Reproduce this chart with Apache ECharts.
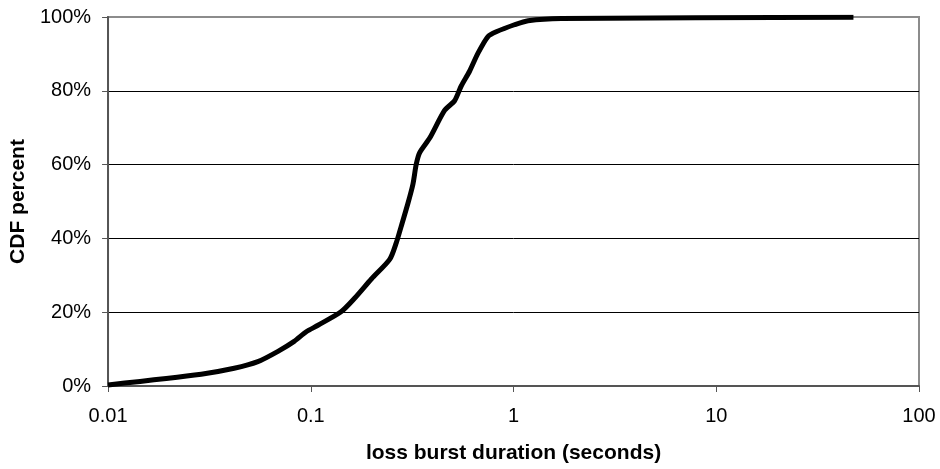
<!DOCTYPE html>
<html>
<head>
<meta charset="utf-8">
<script src="https://cdn.jsdelivr.net/npm/echarts@6/dist/echarts.min.js"></script>
<style>html,body{margin:0;padding:0;background:#fff;}#c{width:940px;height:469px;}</style>
</head>
<body>
<div id="c"></div>
<script>
const durations = [0.01, 0.0288, 0.0419, 0.0548, 0.0689, 0.0828, 0.095, 0.108, 0.141, 0.164, 0.199, 0.245, 0.264, 0.279, 0.301, 0.319, 0.331, 0.344, 0.386, 0.457, 0.512, 0.552, 0.607, 0.668, 0.748, 0.822, 1.01, 1.18, 1.72, 47.5];
const cdfPercent = [0.3, 3.2, 4.8, 6.6, 9.4, 12.1, 14.7, 16.4, 20.1, 23.7, 29.0, 34.3, 38.8, 43.2, 49.4, 54.7, 60.0, 63.2, 67.2, 74.7, 77.3, 81.3, 85.3, 90.2, 94.7, 96.0, 97.9, 99.0, 99.6, 99.9];
const xTitle = 'loss burst duration (seconds)';
const yTitle = 'CDF percent';

const FONT = '"Liberation Sans", Arial, sans-serif';
const chart = echarts.init(document.getElementById('c'), null, {renderer: 'canvas'});
chart.setOption({
  animation: false,
  backgroundColor: '#fff',
  grid: {left: 107, right: 21, top: 17, bottom: 77, show: true, borderColor: '#8c8c8c', borderWidth: 2, backgroundColor: 'transparent'},
  xAxis: {
    type: 'log', logBase: 10, min: 0.01, max: 100,
    name: xTitle, nameLocation: 'middle', nameGap: 57,
    nameTextStyle: {fontFamily: FONT, fontSize: 21, fontWeight: 'bold', color: '#000'},
    axisLine: {show: true, lineStyle: {color: '#555', width: 2}},
    axisTick: {show: true, inside: false, length: 6, lineStyle: {color: '#555', width: 1}},
    minorTick: {show: false},
    splitLine: {show: false},
    axisLabel: {fontFamily: FONT, fontSize: 20, color: '#000', margin: 20,
      formatter: function (v) { return String(parseFloat(Number(v).toPrecision(3))); }}
  },
  yAxis: {
    type: 'value', min: 0, max: 100, interval: 20,
    name: yTitle, nameLocation: 'middle', nameGap: 68, nameRotate: 90,
    nameTextStyle: {fontFamily: FONT, fontSize: 21, fontWeight: 'bold', color: '#000'},
    axisLine: {show: true, lineStyle: {color: '#555', width: 2}},
    axisTick: {show: true, inside: false, length: 6, lineStyle: {color: '#555', width: 1}},
    splitLine: {show: true, showMinLine: false, showMaxLine: false, lineStyle: {color: '#000', width: 1}},
    axisLabel: {fontFamily: FONT, fontSize: 20, color: '#000', margin: 17, formatter: '{value}%'}
  },
  series: [{
    type: 'line',
    data: durations.map((d, i) => [d, cdfPercent[i]]),
    showSymbol: false,
    smooth: 0.25,
    lineStyle: {color: '#000', width: 5},
    z: 5
  }]
});
</script>
</body>
</html>
